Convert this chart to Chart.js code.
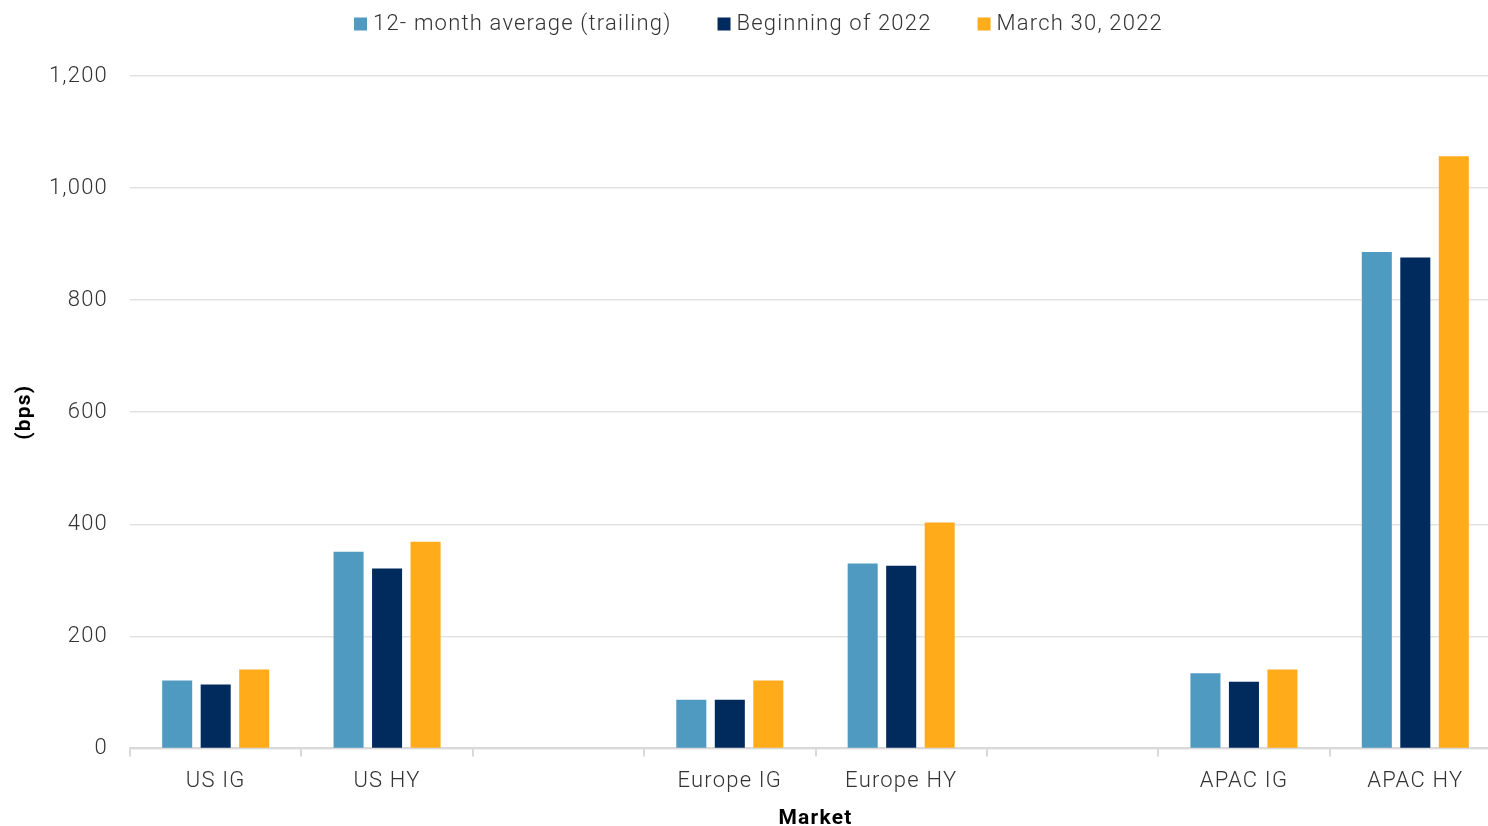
<!DOCTYPE html>
<html>
<head>
<meta charset="utf-8">
<script src="https://cdn.jsdelivr.net/npm/chart.js@4"></script>
<style>
  html, body { margin: 0; padding: 0; background: #fff; overflow: hidden; }
  #wrap { width: 1501px; height: 826px; position: relative; }
</style>
</head>
<body>
<div id="wrap"><canvas id="chart"></canvas></div>
<script>
// Spread markets; empty slots separate the regions
const markets = ['US IG', 'US HY', '', 'Europe IG', 'Europe HY', '', 'APAC IG', 'APAC HY'];
const trailingAvg = [121, 351, null, 87, 330, null, 134, 886];
const beginning2022 = [114, 321, null, 87, 326, null, 119, 876];
const march30 = [141, 369, null, 121, 403, null, 141, 1057];
const seriesNames = ['12- month average (trailing)', 'Beginning of 2022', 'March 30, 2022'];
const seriesColors = ['#4F9AC1', '#002B5C', '#FFAB1A'];
const yTicks = [0, 200, 400, 600, 800, 1000, 1200];

const FONT = 'Roboto';
const TEXT = '#333333';
const SPACING = '1.2px';

Chart.defaults.font.family = FONT;

// Wider tracking for all canvas text; the context state resets whenever the canvas is resized
const tracking = {
  id: 'tracking',
  beforeUpdate(chart) { chart.ctx.letterSpacing = SPACING; },
  beforeDraw(chart) { chart.ctx.letterSpacing = SPACING; }
};

// Single-row legend across the top, built from the datasets
const topLegend = {
  id: 'topLegend',
  afterDraw(chart) {
    const ctx = chart.ctx;
    const box = 13, boxGap = 6, itemGap = 46, cy = 23;
    ctx.save();
    ctx.letterSpacing = SPACING;
    ctx.font = '300 22px ' + FONT;
    ctx.textBaseline = 'middle';
    ctx.textAlign = 'left';
    const items = chart.data.datasets.map(ds => ({
      text: ds.label, color: ds.backgroundColor, w: ctx.measureText(ds.label).width
    }));
    const total = items.reduce((s, it) => s + box + boxGap + it.w, 0) + itemGap * (items.length - 1);
    let x = (chart.width - total) / 2 + 8;
    items.forEach(it => {
      ctx.fillStyle = it.color;
      ctx.fillRect(x, cy - box / 2 + 1, box, box);
      x += box + boxGap;
      ctx.fillStyle = TEXT;
      ctx.fillText(it.text, x, cy + 1);
      x += it.w + itemGap;
    });
    ctx.restore();
  }
};

const common = { categoryPercentage: 0.674, barPercentage: 0.78 };

new Chart(document.getElementById('chart'), {
  type: 'bar',
  data: {
    labels: markets,
    datasets: seriesNames.map((name, i) => Object.assign({
      label: name,
      data: [trailingAvg, beginning2022, march30][i],
      backgroundColor: seriesColors[i]
    }, common))
  },
  options: {
    responsive: true,
    maintainAspectRatio: false,
    animation: false,
    layout: { padding: { left: 12, right: 0, top: 76, bottom: -5 } },
    plugins: {
      legend: { display: false },
      tooltip: { enabled: false }
    },
    scales: {
      x: {
        grid: {
          offset: true,
          drawOnChartArea: false,
          drawTicks: true,
          tickLength: 8,
          color: '#d9d9d9',
          lineWidth: 2
        },
        border: { color: '#d9d9d9', width: 2 },
        ticks: {
          color: TEXT,
          padding: 12,
          font: { size: 22, weight: 300, family: FONT },
          maxRotation: 0,
          autoSkip: false
        },
        title: {
          display: true,
          text: 'Market',
          color: '#000',
          font: { size: 21, weight: 'bold', family: FONT },
          padding: { top: -1, bottom: 0 }
        }
      },
      y: {
        min: 0,
        max: 1200,
        afterBuildTicks: (axis) => { axis.ticks = yTicks.map(v => ({ value: v })); },
        afterFit: (scale) => { scale.width = 118; },
        grid: { color: '#e3e3e3', lineWidth: 1.5, drawTicks: false },
        border: { display: false },
        ticks: {
          color: TEXT,
          padding: 22,
          font: { size: 22, weight: 300, family: FONT },
          callback: (v) => v.toLocaleString('en-US')
        },
        title: {
          display: true,
          text: '(bps)',
          color: '#000',
          font: { size: 21, weight: 'bold', family: FONT },
          padding: { top: 0, bottom: 10 }
        }
      }
    }
  },
  plugins: [tracking, topLegend]
});
</script>
</body>
</html>
